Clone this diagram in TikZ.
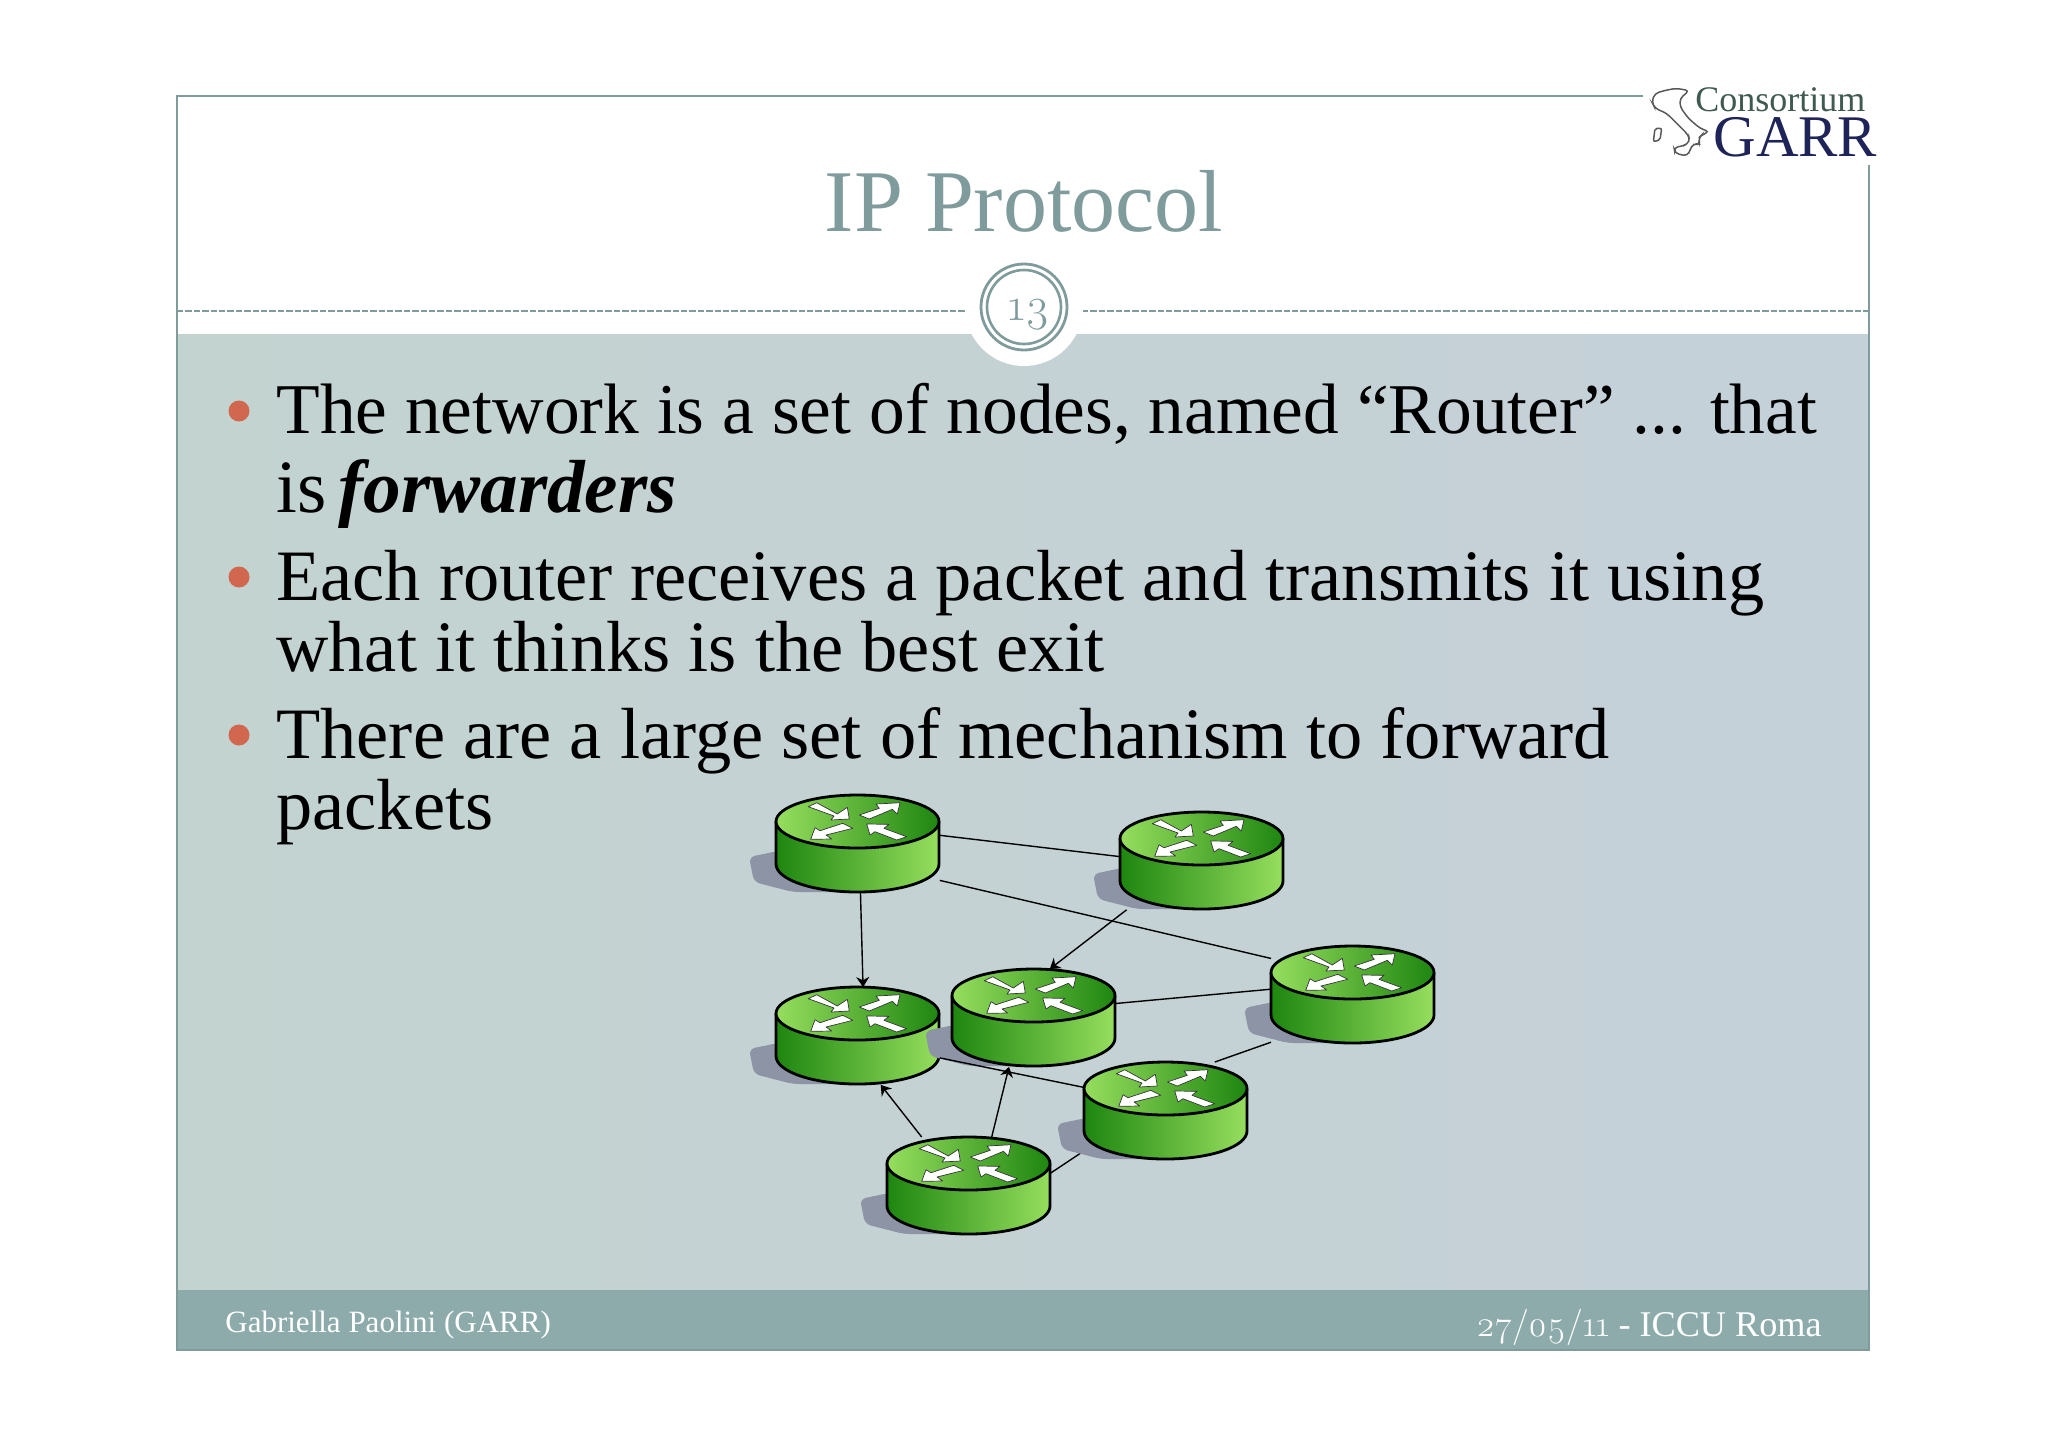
\documentclass[tikz,border=0pt]{standalone}
\usepackage{fontspec}
\setmainfont{Liberation Serif}
\newfontfamily\oldfig[Numbers=OldStyle]{Latin Modern Roman}
\usetikzlibrary{arrows.meta}
\definecolor{slate}{HTML}{7F9B9B}
\definecolor{footbar}{HTML}{8DABAB}
\definecolor{panelleft}{HTML}{C3D3D0}
\definecolor{panelright}{HTML}{C5D1D9}
\definecolor{bulletc}{HTML}{D0674E}
\definecolor{routerlight}{HTML}{96DE5E}
\definecolor{routermid}{HTML}{55AE32}
\definecolor{routerdark}{HTML}{1E8610}
\definecolor{routershade}{HTML}{8C94A6}
\tikzset{routerpic/.pic={
  % shadow, body, top face, four arrows
  \fill[routershade,rounded corners=3pt] (-27,62) -- (2,56) -- (70,97) -- (17,97) -- (-22,87) -- cycle;
  \draw[routeredge,left color=routerdark,middle color=routermid,right color=routerlight]
    (0,27) -- (0,69) arc (180:0:81.5 and 28) -- (163,27) -- cycle;
  \draw[routeredge,left color=routerlight,middle color=routermid,right color=routerdark] (81.5,26.5) ellipse (81.5 and 26.5);
  \draw[routerarrow] (32.3,11.7) -- (40.7,7.7) -- (61.3,19) -- (71.3,12.3) -- (73.3,24) -- (55,25) -- (58,21) -- cycle;
  \draw[routerarrow] (83.3,20) -- (103.3,13.3) -- (100,9) -- (124,7.7) -- (121.3,19) -- (116.3,14.3) -- (93.3,24) -- cycle;
  \draw[routerarrow] (34.7,44.3) -- (39,32.7) -- (44,35.7) -- (66.7,28.3) -- (76.7,33.3) -- (50,40) -- (55.7,44) -- cycle;
  \draw[routerarrow] (90.7,29) -- (113,29.3) -- (108,33.3) -- (130.7,41.7) -- (120.7,45) -- (99,36.7) -- (94,40) -- cycle;
}}
\begin{document}
\begin{tikzpicture}[x=0.5pt,y=-0.5pt]
  \tikzstyle{routerbox}=[rectangle,inner sep=0pt,minimum width=81.5pt,minimum height=48.5pt,anchor=north west]
  \tikzstyle{routeredge}=[draw=black,line width=1.4pt,line join=round]
  \tikzstyle{routerarrow}=[draw=black!80,fill=white,line width=0.35pt,line join=round]
  \tikzstyle{link}=[draw=black,line width=0.7pt]
  \tikzstyle{linkto}=[link,-{Stealth[length=5pt,width=6.5pt]}]
  \tikzstyle{bodyline}=[anchor=base west,inner sep=0pt,text=black,font=\fontsize{36.2}{40}\selectfont]
  \tikzstyle{bulletdot}=[circle,fill=bulletc,inner sep=0pt,minimum size=10.5pt]
  \useasboundingbox (0,0) rectangle (2048,1447);

  % slide
  \fill[white] (0,0) rectangle (2048,1447);
  \shade[left color=panelleft,right color=panelright] (177,334) rectangle (1869,1290);
  \fill[footbar] (177,1290) rectangle (1869,1350);
  \draw[slate,line width=0.75pt] (1643,96) -- (177,96) -- (177,1350) -- (1869,1350) -- (1869,165);
  \draw[slate,line width=0.6pt,dash pattern=on 3.2pt off 1pt] (177,311) -- (966,311);
  \draw[slate,line width=0.6pt,dash pattern=on 3.2pt off 1pt] (1082,311) -- (1869,311);
  \fill[white] (1024,307) circle (59);
  \draw[slate,line width=1.4pt] (1024,307) circle (43);
  \draw[slate,line width=1.3pt] (1024,307) circle (37);
  \node[inner sep=0pt,text=slate,font=\fontsize{23}{26}\selectfont\oldfig] (pageno) at (1029,315) {13};
  \node[anchor=base,inner sep=0pt,text=slate,font=\fontsize{44}{48}\selectfont] (title) at (1024,231) {IP Protocol};

  % logo
  \begin{scope}[shift={(1600,60)},scale=0.3333]
    \draw[black!65,line width=0.75pt,rounded corners=2pt] (155,125) -- (165,100) -- (200,90) -- (230,85) -- (268,92) -- (240,115) -- (240,140) -- (265,175) -- (300,205) -- (328,215) -- (305,225) -- (295,235) -- (300,255) -- (280,250) -- (270,270) -- (262,288) -- (225,280) -- (222,262) -- (250,258) -- (270,245) -- (265,225) -- (235,195) -- (200,160) -- (165,145) -- cycle;
    \draw[black!65,line width=0.75pt,rounded corners=1pt] (165,205) -- (185,205) -- (180,240) -- (160,245) -- cycle;
  \end{scope}
  \node[anchor=base west,inner sep=0pt,text={rgb,255:red,62;green,90;blue,82},font=\fontsize{18}{20}\selectfont] (consortium) at (1695,111) {Consortium};
  \node[anchor=base west,inner sep=0pt,text={rgb,255:red,30;green,36;blue,88},font=\fontsize{29.5}{34}\selectfont] (garr) at (1713,156) {GARR};

  % text
  \node[bodyline,font=\fontsize{35.7}{40}\selectfont] (l1) at (276,433) {The network is a set of nodes, named “Router” ... that};
  \node[bodyline,font=\fontsize{37.6}{40}\selectfont] (l2) at (276,512) {is\hspace{-3.5pt} \textbf{\textit{forwarders}}};
  \node[bodyline] (l3) at (276,600) {Each router receives a packet and transmits it using};
  \node[bodyline] (l4) at (276,671) {what it thinks is the best exit};
  \node[bodyline] (l5) at (276,758) {There are a large set of mechanism to forward};
  \node[bodyline] (l6) at (276,829) {packets};
  \foreach \name/\py in {b1/411,b2/577,b3/735}
    \node[bulletdot] (\name) at (239,\py) {};
  \node[anchor=base west,inner sep=0pt,text=white,font=\fontsize{15.5}{20}\selectfont] (author) at (225,1332) {Gabriella Paolini (GARR)};
  \node[anchor=base east,inner sep=0pt,text=white,font=\fontsize{18.1}{20}\selectfont] (date) at (1822,1336) {{\oldfig 27/05/11} - ICCU Roma};

  % routers
  \foreach \name/\px/\py in {r1/776/795,r2/1120/812,r3/776/987,r4/952/969,r5/1271/946,r6/1084/1062,r7/887/1137}
    \node[routerbox] (\name) at (\px,\py) {};

  \path[link] (r1.6) -- (r2.177.5);
  \path[link] (r1.-24.5) -- (r5.156.4);
  \path[linkto] (r1.-87.7) -- (r3.84.7);
  \path[linkto] (r2.213.8) -- (r4.72.5);
  \path[link] (r4.10.3) -- (r5.176.8);
  \path[link] (r5.210) -- (r6.45);
  \path[link] (r6.206.5) -- (r7.9.5);

  \foreach \name in {r1,r2,r3,r6,r5,r4,r7}
    \pic at (\name.north west) {routerpic};

  \path[link] (r3.-15.6) -- (r6.164);
  \path[linkto] (r7.134.7) -- (r3.-65.6);
  \path[linkto] (r7.65.8) -- (r4.-117.3);
\end{tikzpicture}
\end{document}
